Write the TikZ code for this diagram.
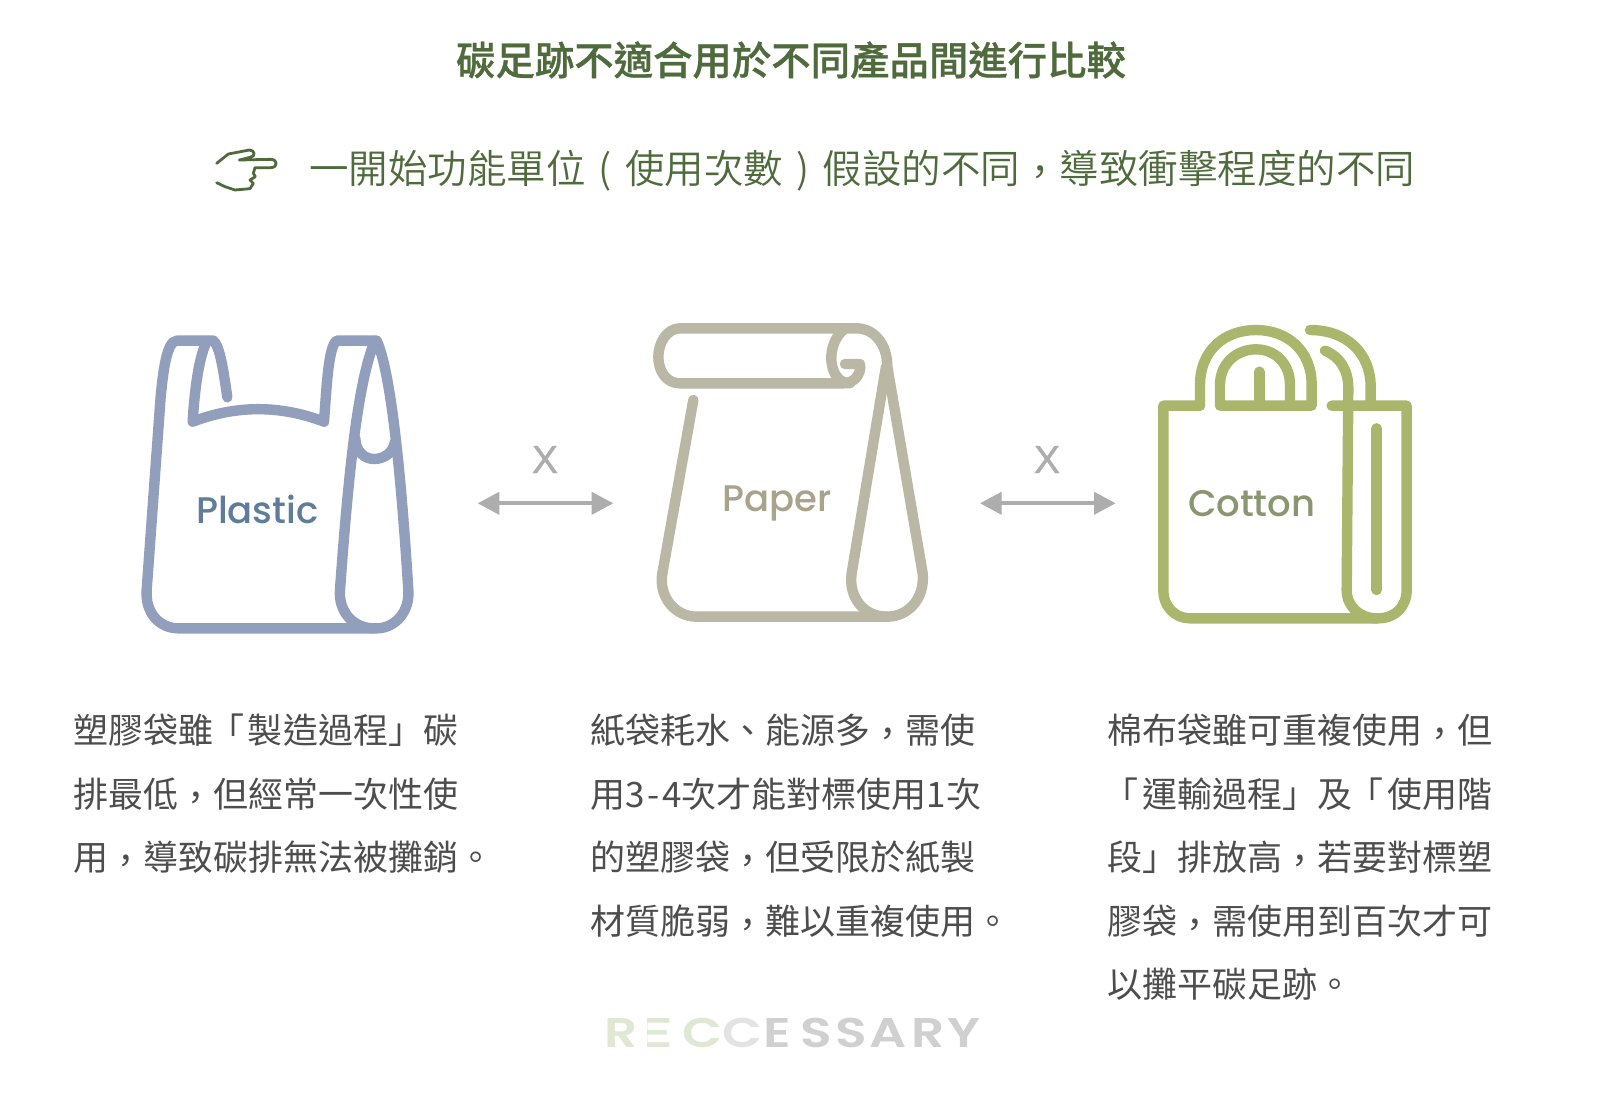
\documentclass[tikz,border=0pt]{standalone}
\usepackage{fontspec}
\usetikzlibrary{arrows.meta}
\newfontfamily\cjkfont{Noto Sans CJK TC}
\newfontfamily\cjktitle[UprightFont=* Medium,FakeBold=0.7]{Noto Sans CJK TC}
\newfontfamily\cjklight[UprightFont=* DemiLight]{Noto Sans CJK TC}
\newfontfamily\latinfont[UprightFont=* Medium]{Poppins}
\newfontfamily\logofont[UprightFont=* SemiBold,FakeStretch=1.25]{Poppins}
\newfontfamily\logowide[UprightFont=* SemiBold,FakeStretch=2]{Poppins}
\newfontfamily\xfont[FakeBold=1]{Liberation Sans}
\definecolor{titlegreen}{HTML}{4F6B3C}
\definecolor{bodygray}{HTML}{4D4D4D}
\definecolor{plasticline}{HTML}{919FBC}
\definecolor{plastictext}{HTML}{5F7D9A}
\definecolor{paperline}{HTML}{BAB8A4}
\definecolor{papertext}{HTML}{A8A38A}
\definecolor{cottonline}{HTML}{AAB66C}
\definecolor{cottontext}{HTML}{8A9670}
\definecolor{arrowgray}{HTML}{ADADAD}
\definecolor{logogreen}{HTML}{DFE8D5}
\definecolor{logolight}{HTML}{E3E3E3}
\definecolor{logogray}{HTML}{D0D0D0}
\tikzset{
  every node/.style={inner sep=0pt,outer sep=0pt},
  bagline/.style={line width=10.4pt,line cap=round,line join=round},
  zoomunits/.style={x=0.33333pt,y=-0.33333pt},
  bodyline/.style={anchor=base west,text=bodygray,font=\cjkfont\fontsize{35pt}{35pt}\selectfont},
  baglabel/.style={anchor=base west,font=\latinfont\fontsize{37pt}{37pt}\selectfont},
  xlabel/.style={anchor=base,text=arrowgray,font=\xfont\fontsize{39pt}{39pt}\selectfont},
  twoway/.style={draw=arrowgray,line width=4.2pt,{Triangle[length=21.7pt,width=22pt]}-{Triangle[length=21.7pt,width=22pt]}},
  logoletter/.style={anchor=base west,font=\logofont\fontsize{41.5pt}{41.5pt}\selectfont},
}
\newcommand{\parcell}[1]{\makebox[39.5pt][c]{#1}}
\newcommand{\lowcomma}{\raisebox{-3.5pt}{，}}
\newcommand{\openq}{\kern-4pt「\kern4pt}
\begin{document}
\begin{tikzpicture}[x=1pt,y=-1pt]
\useasboundingbox (0,0) rectangle (1600,1109);
\fill[white] (0,0) rectangle (1600,1109);

% title
\node[anchor=base,text=titlegreen,font=\cjktitle\fontsize{39.4pt}{39.4pt}\selectfont] (title) at (791,75) {碳足跡不適合用於不同產品間進行比較};
\node[anchor=base west,text=titlegreen,font=\cjklight\fontsize{39.5pt}{39.5pt}\selectfont] (subtitle) at (309,183) {一開始功能單位\parcell{(}使用次數\parcell{)}假設的不同\lowcomma 導致衝擊程度的不同};

% pointing hand
\begin{scope}[shift={(200,130)},zoomunits]
\draw[titlegreen,line width=2.8pt,line cap=round,line join=round]
  (50,100) -- (85,72) -- (148,60) .. controls (165,60) and (168,80) .. (150,82) -- (118,90)
  -- (212,88) .. controls (234,88) and (234,113) .. (212,113) -- (165,113)
  -- (160,130) -- (166,140) -- (150,150) -- (160,160) -- (150,176)
  -- (105,180) -- (75,170) -- (50,158);
\end{scope}

% plastic bag
\begin{scope}[shift={(120,310)},zoomunits]
\draw[plasticline,bagline]
  (322,262) .. controls (310,180) and (300,110) .. (280,92) -- (170,92)
  .. controls (140,95) and (130,180) .. (122,260) -- (80,840)
  .. controls (75,910) and (120,955) .. (175,955) -- (770,955)
  .. controls (825,955) and (870,905) .. (865,840)
  .. controls (850,600) and (820,200) .. (770,92) -- (650,92)
  .. controls (625,110) and (620,230) .. (612,335)
  .. controls (480,285) and (350,285) .. (218,335)
  .. controls (225,220) and (240,130) .. (262,92);
\draw[plasticline,bagline]
  (765,92) .. controls (720,200) and (690,420) .. (660,840)
  .. controls (655,905) and (700,955) .. (762,955);
\draw[plasticline,bagline]
  (706,385) .. controls (706,425) and (735,447) .. (762,447)
  .. controls (790,447) and (820,430) .. (825,395);
\end{scope}
\node[baglabel,text=plastictext] (plastic) at (196,523) {Plastic};

% paper bag
\begin{scope}[shift={(630,310)},zoomunits]
\draw[paperline,bagline]
  (190,270) -- (97,790) .. controls (85,860) and (135,920) .. (200,920) -- (770,920)
  .. controls (840,920) and (885,860) .. (878,790) -- (772,170)
  .. controls (772,100) and (730,55) .. (680,55) -- (150,55)
  .. controls (110,55) and (85,100) .. (85,140)
  .. controls (85,185) and (110,220) .. (150,220) -- (640,220)
  .. controls (670,220) and (695,195) .. (690,162) -- (645,162);
\draw[paperline,bagline]
  (640,60) .. controls (610,85) and (600,130) .. (605,160)
  .. controls (610,195) and (630,220) .. (660,220);
\draw[paperline,bagline]
  (768,170) -- (665,790) .. controls (655,860) and (700,920) .. (770,920);
\end{scope}
\node[baglabel,text=papertext] (paper) at (722,511) {Paper};

% cotton bag
\begin{scope}[shift={(960,310)},zoomunits]
\draw[cottonline,bagline]
  (720,287) -- (610,287) -- (610,840) .. controls (610,890) and (645,925) .. (690,925)
  -- (1255,925) .. controls (1305,925) and (1340,890) .. (1340,840) -- (1340,287) -- (1115,287);
\draw[cottonline,bagline]
  (720,287) -- (720,225) .. controls (720,120) and (795,60) .. (888,60)
  .. controls (980,60) and (1055,120) .. (1055,225) -- (1055,287) -- (780,287) -- (780,225)
  .. controls (780,160) and (830,118) .. (888,118)
  .. controls (945,118) and (990,160) .. (990,225) -- (990,287);
\draw[cottonline,bagline] (898,185) -- (898,287);
\draw[cottonline,bagline]
  (1050,60) .. controls (1160,60) and (1232,130) .. (1232,230) -- (1232,287);
\draw[cottonline,bagline]
  (1095,122) .. controls (1140,140) and (1165,180) .. (1165,235) -- (1160,840)
  .. controls (1160,890) and (1200,925) .. (1250,925);
\draw[cottonline,bagline] (1250,355) -- (1250,840);
\end{scope}
\node[baglabel,text=cottontext] (cotton) at (1188,516) {Cotton};

% arrows between the bags
\coordinate (aL) at (477.7,503.3);
\coordinate (aR) at (613.3,503.3);
\coordinate (bL) at (980,503.3);
\coordinate (bR) at (1115.7,503.3);
\draw[twoway] (aL) -- (aR);
\draw[twoway] (bL) -- (bR);
\node[xlabel] (xa) at (545,473) {X};
\node[xlabel] (xb) at (1047,473) {X};

% column 1
\node[bodyline] (a1) at (73,743) {塑膠袋雖\openq 製造過程」碳};
\node[bodyline] (a2) at (73,807) {排最低\lowcomma 但經常一次性使};
\node[bodyline] (a3) at (73,870) {用\lowcomma 導致碳排無法被攤銷。};
% column 2
\node[bodyline] (b1) at (590,743) {紙袋耗水、能源多\lowcomma 需使};
\node[bodyline] (b2) at (590,807) {用3\kern3pt-\kern3pt4次才能對標使用1次};
\node[bodyline] (b3) at (590,870) {的塑膠袋\lowcomma 但受限於紙製};
\node[bodyline] (b4) at (590,934) {材質脆弱\lowcomma 難以重複使用。};
% column 3
\node[bodyline] (c1) at (1107,743) {棉布袋雖可重複使用\lowcomma 但};
\node[bodyline] (c2) at (1107,807) {\openq 運輸過程」及\openq 使用階};
\node[bodyline] (c3) at (1107,870) {段」排放高\lowcomma 若要對標塑};
\node[bodyline] (c4) at (1107,934) {膠袋\lowcomma 需使用到百次才可};
\node[bodyline] (c5) at (1107,997) {以攤平碳足跡。};

% logo
\node[logoletter,text=logogreen] (l1) at (604.5,1047) {R};
\begin{scope}
\clip (647,1010) rectangle (680,1055);
\node[logoletter,font=\logowide\fontsize{41.5pt}{41.5pt}\selectfont,text=logogreen] (l2) at (630,1047) {E};
\end{scope}
\node[logoletter,text=logogreen] (l3) at (682.5,1047) {C};
\node[logoletter,text=logolight] (l4) at (722.5,1047) {C};
\node[logoletter,text=logogray] (l5) at (763.5,1047) {E};
\node[logoletter,text=logogray] (l6) at (800,1047) {S};
\node[logoletter,text=logogray] (l7) at (835,1047) {S};
\node[logoletter,text=logogray] (l8) at (869.5,1047) {A};
\node[logoletter,text=logogray] (l9) at (911.5,1047) {R};
\node[logoletter,text=logogray] (l10) at (947.5,1047) {Y};
\end{tikzpicture}
\end{document}
